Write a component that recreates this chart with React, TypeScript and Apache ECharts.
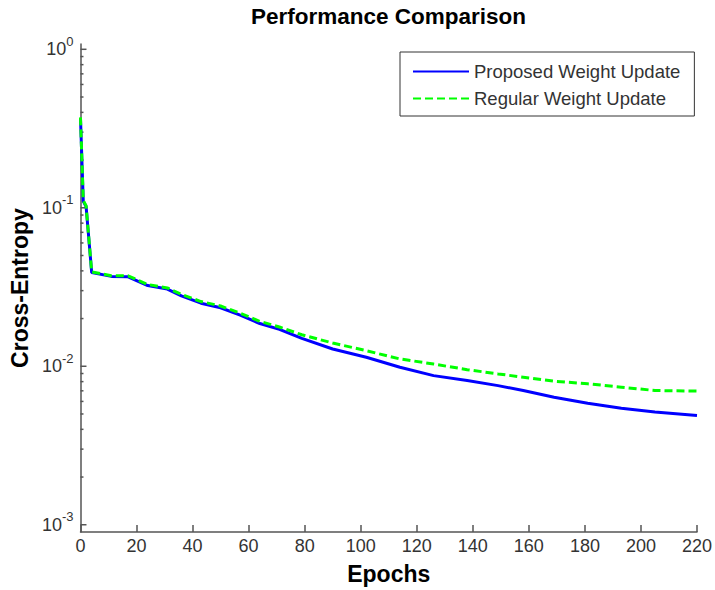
import React, { useEffect, useRef } from "react";
import * as echarts from "echarts";

const epochs = [0, 1, 2, 4, 11, 17, 24, 31, 36, 43, 50, 57, 64, 71, 79, 90, 102, 114, 126, 138, 149, 158, 169, 181, 193, 205, 220];
const proposed = [0.368, 0.110, 0.102, 0.0390, 0.0369, 0.0367, 0.0323, 0.0307, 0.0278, 0.0250, 0.0234, 0.0210, 0.0186, 0.0171, 0.0150, 0.01285, 0.0114, 0.00986, 0.00873, 0.00812, 0.00755, 0.00703, 0.00638, 0.00585, 0.00544, 0.00514, 0.00489];
const regular = [0.372, 0.111, 0.103, 0.0394, 0.0373, 0.0372, 0.0328, 0.0312, 0.0284, 0.0256, 0.0240, 0.0216, 0.0192, 0.0177, 0.0158, 0.01402, 0.01254, 0.01112, 0.01033, 0.00952, 0.00895, 0.00853, 0.00805, 0.00775, 0.00738, 0.00703, 0.00697];
const seriesNames = ["Proposed Weight Update", "Regular Weight Update"];
const majorTicks = [0.001, 0.01, 0.1, 1];
const minorMultipliers = [2, 3, 4, 5, 6, 7, 8, 9];

const FONT = "Arial, 'Liberation Sans', sans-serif";
const AXIS_COLOR = "#555";
const TEXT_COLOR = "#333";

export default function App() {
  const ref = useRef<HTMLDivElement>(null);
  useEffect(() => {
    if (!ref.current) return;
    const chart = echarts.init(ref.current, null, { renderer: "svg" });
    chart.setOption({
      animation: false,
      backgroundColor: "#fff",
      title: {
        text: "Performance Comparison",
        left: 251,
        top: 5,
        padding: 0,
        textStyle: { fontFamily: FONT, fontSize: 22.5, fontWeight: "bold", color: "#000" },
      },
      legend: {
        orient: "vertical",
        left: 400,
        top: 52,
        padding: [10, 14, 8, 12],
        itemGap: 8,
        itemWidth: 56,
        itemHeight: 18,
        borderColor: "#333",
        borderWidth: 1,
        backgroundColor: "#fff",
        data: seriesNames,
        itemStyle: { opacity: 0 },
        textStyle: { fontFamily: FONT, fontSize: 18.5, color: TEXT_COLOR },
      },
      grid: { left: 79, right: 15, top: 44, bottom: 56, containLabel: false },
      xAxis: {
        type: "value",
        min: 0,
        max: 220,
        interval: 20,
        name: "Epochs",
        nameLocation: "middle",
        nameGap: 30,
        nameTextStyle: { fontFamily: FONT, fontSize: 23, fontWeight: "bold", color: "#000" },
        axisLine: { onZero: false, lineStyle: { color: AXIS_COLOR, width: 1.5 } },
        axisTick: { inside: true, length: 7, lineStyle: { color: AXIS_COLOR, width: 1.5 } },
        axisLabel: { margin: 5, fontFamily: FONT, fontSize: 18, color: TEXT_COLOR },
        splitLine: { show: false },
      },
      yAxis: {
        type: "log",
        logBase: 10,
        min: 0.0009,
        max: 1.08,
        splitNumber: 3,
        name: "Cross-Entropy",
        nameLocation: "middle",
        nameGap: 46,
        nameTextStyle: { fontFamily: FONT, fontSize: 23, fontWeight: "bold", color: "#000" },
        axisLine: { show: true, lineStyle: { color: AXIS_COLOR, width: 1.5 } },
        axisTick: { show: false },
        splitLine: { show: false },
        axisLabel: {
          margin: 7,
          fontFamily: FONT,
          formatter: (v: number) => {
            const l = Math.log10(v);
            const e = Math.round(l);
            if (Math.abs(l - e) > 1e-6) return "";
            return `{b|10}{s|${e}}`;
          },
          rich: {
            b: { fontFamily: FONT, fontSize: 18, color: TEXT_COLOR },
            s: { fontFamily: FONT, fontSize: 13, color: TEXT_COLOR, padding: [0, 0, 16, 0] },
          },
        },
      },
      series: [
        {
          name: seriesNames[0],
          type: "line",
          data: epochs.map((e, i) => [e, proposed[i]]),
          symbol: "none",
          lineStyle: { color: "#0000ff", width: 3 },
          itemStyle: { color: "#0000ff" },
          z: 2,
        },
        {
          name: seriesNames[1],
          type: "line",
          data: epochs.map((e, i) => [e, regular[i]]),
          symbol: "none",
          lineStyle: { color: "#00ff00", width: 3, type: [8, 4] },
          itemStyle: { color: "#00ff00" },
          z: 3,
        },
      ],
    });

    const x0 = chart.convertToPixel({ xAxisIndex: 0 }, 0) as number;
    const graphics: any[] = [];
    const addTick = (v: number, len: number) => {
      const y = chart.convertToPixel({ yAxisIndex: 0 }, v) as number;
      graphics.push({
        type: "line",
        silent: true,
        shape: { x1: x0, y1: y, x2: x0 + len, y2: y },
        style: { stroke: AXIS_COLOR, lineWidth: 1.5 },
      });
    };
    majorTicks.forEach((m) => addTick(m, 6));
    majorTicks.slice(0, 3).forEach((m) => minorMultipliers.forEach((k) => addTick(m * k, 3)));
    chart.setOption({ graphic: graphics });

    return () => chart.dispose();
  }, []);
  return (
    <div
      ref={ref}
      style={{ position: "fixed", left: 0, top: 0, width: 715, height: 590, background: "#fff" }}
    />
  );
}
